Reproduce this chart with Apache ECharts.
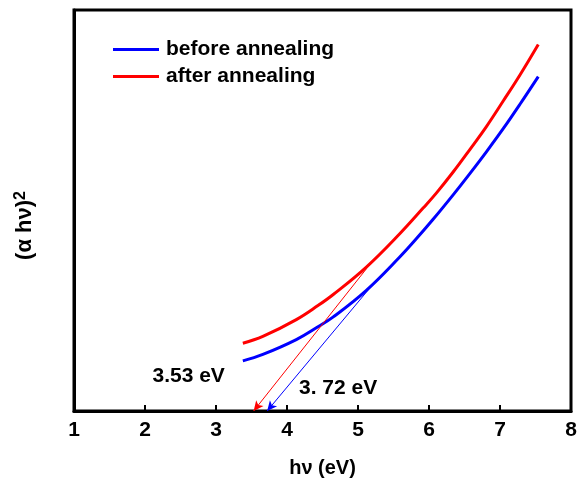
<!DOCTYPE html>
<html>
<head>
<meta charset="utf-8">
<script src="https://cdn.jsdelivr.net/npm/echarts@6/dist/echarts.min.js"></script>
<style>
  html, body { margin: 0; padding: 0; background: #fff; }
  #chart { width: 577px; height: 481px; }
</style>
</head>
<body>
<div id="chart"></div>
<script>
// Photon energy hν (eV) and (αhν)² (arbitrary units) for each film
const hvBefore = [3.378, 3.660, 4.131, 4.436, 4.647, 5.118, 5.588, 5.824, 6.058, 6.340, 6.575, 6.811, 7.045, 7.281, 7.539];
const ahvBefore = [12.5, 14.1, 17.8, 21.0, 23.4, 30.1, 38.4, 43.0, 47.8, 53.9, 59.2, 64.7, 70.4, 76.5, 83.4];

const hvAfter = [3.378, 3.660, 4.131, 4.436, 4.647, 5.118, 5.588, 5.917, 6.106, 6.340, 6.575, 6.811, 7.045, 7.281, 7.539];
const ahvAfter = [16.9, 18.6, 22.8, 26.3, 29.0, 35.9, 44.2, 50.6, 54.4, 59.6, 65.2, 71.0, 77.3, 83.8, 91.4];

// Linear extrapolation: tangent point on each curve and band-gap intercept on the hν axis
const tangentBefore = [5.22, 31.8];
const tangentAfter = [5.12, 35.5];
const gapBefore = 3.72;
const gapAfter = 3.53;
const gapLabelBefore = '3. 72 eV';
const gapLabelAfter = '3.53 eV';
const gapLabelPosBefore = [4.72, 5.6];
const gapLabelPosAfter = [2.615, 8.7];

const xTicks = [1, 2, 3, 4, 5, 6, 7, 8];
const seriesNames = ['before annealing', 'after annealing'];
const seriesColors = ['#0000ff', '#ff0000'];

const FONT = '"Liberation Sans", Arial, sans-serif';
const zip = (xs, ys) => xs.map((x, i) => [x, ys[i]]);

function gapLine(color, from, gap, label, labelPos) {
  return {
    markLine: {
      silent: true,
      animation: false,
      symbol: ['none', 'arrow'],
      symbolSize: [7, 10],
      lineStyle: { color: color, width: 1, type: 'solid' },
      label: { show: false },
      data: [[{ coord: from }, { coord: [gap, 0] }]]
    },
    markPoint: {
      silent: true,
      animation: false,
      symbol: 'circle',
      symbolSize: 0,
      label: {
        show: true,
        position: 'inside',
        formatter: label,
        color: '#000',
        fontFamily: FONT,
        fontWeight: 'bold',
        fontSize: 21
      },
      data: [{ coord: labelPos }]
    }
  };
}

function curve(i, xs, ys) {
  return {
    name: seriesNames[i],
    type: 'line',
    smooth: 0.4,
    symbol: 'none',
    color: seriesColors[i],
    lineStyle: { color: seriesColors[i], width: 3 },
    data: zip(xs, ys)
  };
}

const chart = echarts.init(document.getElementById('chart'));
chart.setOption({
  animation: false,
  backgroundColor: '#fff',
  grid: {
    left: 74, right: 6, top: 10, bottom: 70,
    outerBoundsMode: 'none',
    containLabel: false,
    show: true, borderColor: '#000', borderWidth: 3
  },
  legend: {
    orient: 'vertical',
    left: 113, top: 39,
    icon: 'rect',
    itemWidth: 46, itemHeight: 3, itemGap: 6,
    padding: 0,
    textStyle: { fontFamily: FONT, fontWeight: 'bold', fontSize: 21, color: '#000', padding: [0, 0, 0, 2] },
    data: seriesNames
  },
  xAxis: {
    type: 'value',
    min: xTicks[0], max: xTicks[xTicks.length - 1], interval: 1,
    name: 'hν (eV)',
    nameLocation: 'middle',
    nameGap: 47,
    nameTextStyle: { fontFamily: FONT, fontWeight: 'bold', fontSize: 20, color: '#000' },
    axisLine: { show: true, lineStyle: { color: '#000', width: 3 } },
    axisTick: { show: true, inside: true, length: 6, lineStyle: { color: '#000', width: 2 } },
    axisLabel: {
      margin: 9, color: '#000', fontFamily: FONT, fontWeight: 'bold', fontSize: 21,
      formatter: v => String(v)
    },
    splitLine: { show: false }
  },
  yAxis: {
    type: 'value',
    min: 0, max: 100,
    name: '(α hν){sup|2}',
    nameLocation: 'middle',
    nameGap: 38,
    nameRotate: 90,
    nameTextStyle: {
      fontFamily: FONT, fontWeight: 'bold', fontSize: 22, color: '#000',
      padding: [0, 30, 0, 0],
      rich: {
        sup: { fontFamily: FONT, fontWeight: 'bold', fontSize: 16, color: '#000', verticalAlign: 'top', padding: [0, 0, 7, 0] }
      }
    },
    axisLine: { show: true, lineStyle: { color: '#000', width: 3 } },
    axisTick: { show: false },
    axisLabel: { show: false },
    splitLine: { show: false }
  },
  series: [
    Object.assign(curve(0, hvBefore, ahvBefore),
      gapLine(seriesColors[0], tangentBefore, gapBefore, gapLabelBefore, gapLabelPosBefore)),
    Object.assign(curve(1, hvAfter, ahvAfter),
      gapLine(seriesColors[1], tangentAfter, gapAfter, gapLabelAfter, gapLabelPosAfter))
  ]
});
</script>
</body>
</html>
